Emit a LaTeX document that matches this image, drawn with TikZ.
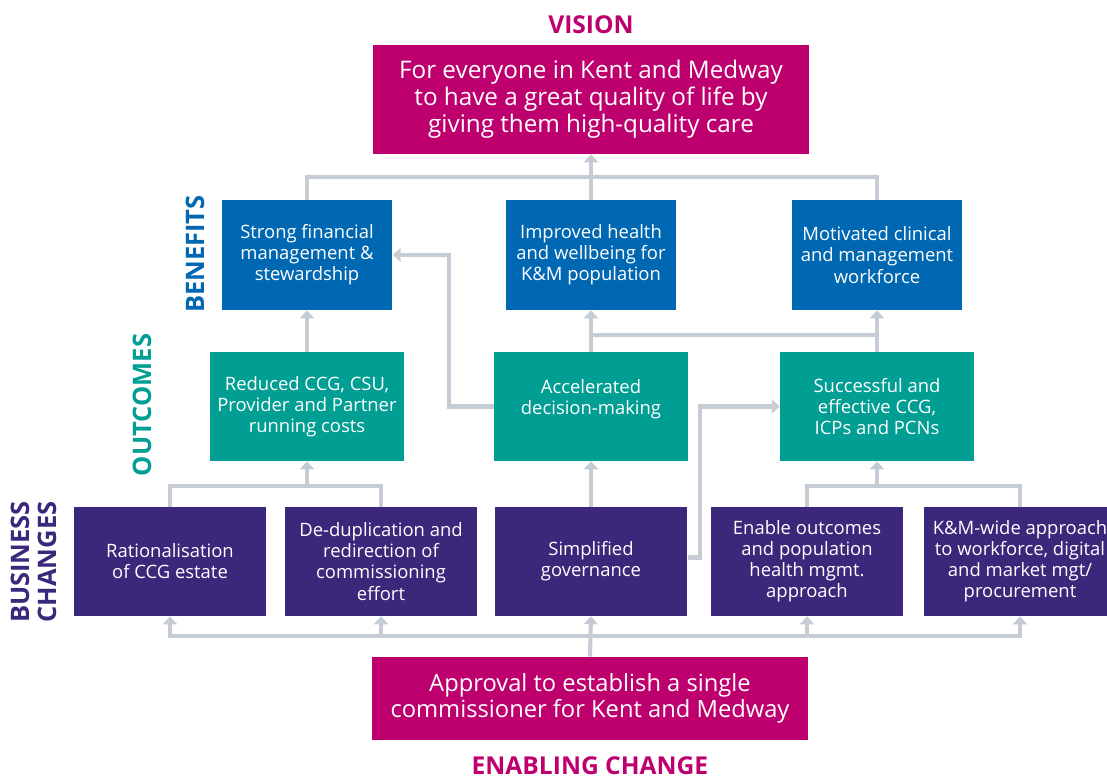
\documentclass[tikz,border=0pt]{standalone}
\usepackage{fontspec}
\setmainfont{Open Sans}
\usetikzlibrary{arrows.meta, positioning}

\definecolor{kmpink}{RGB}{190,0,111}
\definecolor{kmblue}{RGB}{0,104,178}
\definecolor{kmteal}{RGB}{0,158,147}
\definecolor{kmpurple}{RGB}{59,40,123}
\definecolor{kmgrey}{RGB}{197,204,211}

\begin{document}
\begin{tikzpicture}[
        x=0.02cm, y=-0.02cm,
        >={Triangle[width=8pt, length=4.5pt]},
        every node/.style={font=\fontsize{10.5}{12}\selectfont, text=white, align=center, inner sep=0pt},
        bigbox/.style={rectangle, fill=kmpink, minimum width=8.72cm, font=\fontsize{13.8}{15.3}\selectfont},
        benefit/.style={rectangle, fill=kmblue, minimum width=3.42cm, minimum height=2.2cm},
        outcome/.style={rectangle, fill=kmteal, minimum width=3.88cm, minimum height=2.18cm},
        change/.style={rectangle, fill=kmpurple, minimum width=3.86cm, minimum height=2.18cm},
        heading/.style={font=\fontsize{14}{14}\selectfont\bfseries, inner sep=2pt},
        sidehead/.style={font=\fontsize{14.5}{15.3}\selectfont\bfseries, rotate=90},
        link/.style={draw=kmgrey, line width=2.3pt},
        arrow/.style={link, ->}
    ]
        \useasboundingbox (0,0) rectangle (1107,778);

        % top and bottom
        \node[bigbox, minimum height=2.18cm] (vision) at (591,99.5) {For everyone in Kent and Medway\\ to have a great quality of life by\\ giving them high-quality care};
        \node[heading, text=kmpink, above=4pt of vision] (visiontitle) {VISION};
        \node[bigbox, minimum height=1.66cm, font=\fontsize{13.5}{14.8}\selectfont] (enable) at (590,698.5) {Approval to establish a single\\ commissioner for Kent and Medway};
        \node[heading, text=kmpink, below=7pt of enable] (enabletitle) {ENABLING CHANGE};

        % benefits
        \node[benefit] (benfin) at (307,255) {Strong financial\\ management \&\\ stewardship};
        \node[benefit] (benhealth) at (591,255) {Improved health\\ and wellbeing for\\ K\&M population};
        \node[benefit] (benwork) at (877,255) {Motivated clinical\\ and management\\ workforce};

        % outcomes
        \node[outcome] (outcost) at (307,406.5) {Reduced CCG, CSU,\\ Provider and Partner\\ running costs};
        \node[outcome] (outdecide) at (591,406.5) {Accelerated\\ decision-making\\[-1pt]};
        \node[outcome] (outccg) at (877,406.5) {Successful and\\ effective CCG,\\ ICPs and PCNs};

        % business changes
        \node[change] (bizestate) at (170,561.5) {Rationalisation\\ of CCG estate};
        \node[change] (bizdedup) at (381,561.5) {De-duplication and\\ redirection of\\ commissioning\\ effort};
        \node[change] (bizgov) at (591,561.5) {Simplified\\ governance};
        \node[change] (bizpop) at (807,561.5) {Enable outcomes\\ and population\\ health mgmt.\\ approach};
        \node[change] (bizwide) at (1020,561.5) {K\&M-wide approach\\ to workforce, digital\\ and market mgt/\\ procurement};

        % row labels
        \node[sidehead, text=kmblue] (benlabel) at (195,254) {BENEFITS};
        \node[sidehead, text=kmteal] (outlabel) at (142,405) {OUTCOMES};
        \node[sidehead, text=kmpurple] (bizlabel) at (34,562) {BUSINESS\\ CHANGES};

        % junctions
        \coordinate (jtop) at (591,177);
        \coordinate (jmid) at (591,335);
        \coordinate (jcost) at (307,486);
        \coordinate (jccg) at (877,486);
        \coordinate (jbot) at (591,636);

        \draw[link] (benfin.north) |- (jtop) -| (benwork.north);
        \draw[arrow] (benhealth.north) -- (vision.south);

        \draw[arrow] (outcost.north) -- (benfin.south);
        \draw[arrow] (outdecide.west) -- ++(-45,0) |- (benfin.east);
        \draw[arrow] (outdecide.north) -- (benhealth.south);
        \draw[arrow] (outccg.north) -- (benwork.south);
        \draw[link] (jmid) -- (jmid -| outccg.north);

        \draw[link] (bizestate.north) |- (jcost) -| (bizdedup.north);
        \draw[arrow] (jcost) -- (outcost.south);
        \draw[arrow] (bizgov.north) -- (outdecide.south);
        \draw[arrow] (bizgov.east) ++(0,-4) -- ++(12,0) |- (outccg.west);
        \draw[link] (bizpop.north) |- (jccg) -| (bizwide.north);
        \draw[arrow] (jccg) -- (outccg.south);

        \draw[arrow] (enable.north) -- (bizgov.south);
        \foreach \b in {bizestate, bizdedup, bizpop, bizwide}
            \draw[arrow] (jbot) -| (\b.south);
    \end{tikzpicture}
\end{document}
